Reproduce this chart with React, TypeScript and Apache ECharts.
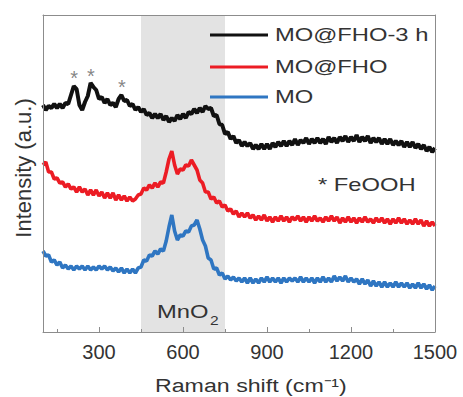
import React, { useEffect, useRef } from "react";
import * as echarts from "echarts";

// Raman shift sampling grid (cm^-1), every 10 cm^-1 from 100 to 1500
const shifts: number[] = Array.from({ length: 141 }, (_, i) => 100 + i * 10);

// Intensity (a.u.), offset-stacked as in the figure
const mofho3h: number[] = [
  227, 222, 226, 224, 228, 224, 228, 224, 229, 228,
  237, 246, 243, 227, 222, 230, 236, 249, 245, 242,
  233, 235, 229, 233, 227, 229, 225, 233, 237, 231,
  232, 226, 228, 222, 225, 220, 223, 217, 219, 214,
  218, 214, 218, 212, 216, 210, 214, 211, 217, 213,
  218, 214, 220, 218, 223, 219, 224, 220, 226, 223,
  224, 216, 217, 208, 207, 198, 200, 193, 196, 189,
  192, 186, 190, 186, 189, 183, 187, 183, 188, 183,
  188, 183, 189, 185, 190, 186, 191, 186, 191, 187,
  193, 187, 192, 189, 194, 188, 193, 189, 194, 189,
  193, 188, 195, 190, 194, 189, 195, 191, 196, 190,
  195, 191, 197, 190, 195, 191, 196, 189, 194, 190,
  194, 188, 193, 188, 193, 187, 191, 187, 191, 185,
  190, 185, 190, 184, 188, 183, 187, 181, 185, 180,
  184,
];

const mofho: number[] = [
  167, 170, 160, 160, 153, 154, 149, 150, 145, 148,
  143, 145, 140, 145, 140, 143, 137, 142, 137, 142,
  136, 140, 134, 139, 134, 139, 132, 137, 132, 136,
  131, 135, 131, 133, 137, 138, 144, 142, 147, 144,
  149, 145, 150, 149, 160, 173, 181, 167, 158, 163,
  162, 167, 166, 172, 167, 162, 152, 149, 140, 140,
  133, 135, 129, 131, 125, 127, 121, 123, 118, 121,
  115, 119, 115, 119, 114, 117, 112, 116, 112, 117,
  111, 115, 110, 115, 111, 116, 111, 115, 110, 115,
  112, 116, 111, 115, 110, 115, 111, 116, 111, 114,
  110, 115, 111, 116, 111, 115, 109, 114, 110, 115,
  110, 114, 109, 114, 110, 115, 110, 113, 109, 114,
  110, 114, 109, 113, 108, 113, 109, 114, 109, 113,
  108, 112, 108, 113, 108, 112, 106, 111, 106, 110,
  106,
];

const mo: number[] = [
  81, 76, 77, 70, 72, 67, 70, 64, 67, 63,
  66, 62, 66, 63, 66, 62, 66, 62, 65, 62,
  66, 63, 66, 62, 65, 61, 64, 60, 64, 59,
  63, 59, 63, 59, 64, 65, 72, 71, 77, 76,
  81, 78, 83, 81, 91, 105, 117, 101, 92, 97,
  96, 101, 100, 106, 107, 112, 103, 92, 86, 74,
  72, 63, 64, 57, 59, 53, 56, 52, 55, 51,
  54, 50, 54, 49, 54, 49, 53, 49, 54, 50,
  55, 50, 54, 50, 54, 49, 54, 50, 54, 51,
  54, 50, 55, 50, 54, 50, 54, 49, 54, 50,
  55, 50, 54, 50, 56, 51, 55, 51, 56, 50,
  54, 50, 53, 48, 53, 48, 52, 46, 51, 46,
  50, 45, 50, 45, 49, 45, 50, 45, 49, 45,
  49, 44, 48, 44, 49, 44, 48, 43, 47, 42,
  46,
];

const seriesNames = ["MO@FHO-3 h", "MO@FHO", "MO"];
const seriesColors = ["#111111", "#ec1c24", "#2f76c2"];
const seriesWidths = [4, 3.6, 3.6];

// FeOOH peak markers (*) above the MO@FHO-3 h curve
const feoohShifts = [211, 271, 382];
const feoohMarkY = [259, 261, 250];

// MnO2 region
const mno2Band = [450, 750];

const majorTicks = [300, 600, 900, 1200, 1500];
const minorTicks = [150, 450, 750, 1050, 1350];

const FONT = '"Liberation Sans", Arial, Helvetica, sans-serif';
const TEXT = "#333333";
const FRAME = "#8c8c8c";

export default function App() {
  const ref = useRef<HTMLDivElement>(null);

  useEffect(() => {
    if (!ref.current) return;
    const chart = echarts.init(ref.current, null, { renderer: "svg" });
    const toPairs = (ys: number[]) => shifts.map((x, i) => [x, ys[i]]);
    const curves = [mofho3h, mofho, mo];

    const legendRowsY = [35, 67, 97];

    const option: any = {
      animation: false,
      backgroundColor: "#ffffff",
      grid: { left: 43, right: 28, top: 15, bottom: 65, containLabel: false },
      xAxis: [
        {
          type: "value",
          min: 100,
          max: 1500,
          position: "bottom",
          z: 5,
          axisLine: { show: true, lineStyle: { color: FRAME, width: 1 } },
          axisTick: {
            show: true,
            inside: true,
            length: 5,
            customValues: majorTicks,
            lineStyle: { color: FRAME },
          },
          axisLabel: {
            show: true,
            customValues: majorTicks,
            formatter: (v: number) => String(v),
            color: TEXT,
            fontSize: 20,
            fontFamily: FONT,
            margin: 10,
          },
          splitLine: { show: false },
        },
        {
          type: "value",
          min: 100,
          max: 1500,
          position: "bottom",
          z: 5,
          axisLine: { show: false },
          axisTick: {
            show: true,
            inside: true,
            length: 3,
            customValues: minorTicks,
            lineStyle: { color: FRAME },
          },
          axisLabel: { show: false },
          splitLine: { show: false },
        },
        {
          type: "value",
          min: 100,
          max: 1500,
          position: "top",
          z: 5,
          axisLine: { show: true, lineStyle: { color: FRAME, width: 1 } },
          axisTick: { show: false },
          axisLabel: { show: false },
          splitLine: { show: false },
        },
      ],
      yAxis: [
        {
          type: "value",
          min: 0,
          max: 317,
          position: "left",
          z: 5,
          axisLine: { show: true, lineStyle: { color: FRAME, width: 1 } },
          axisTick: { show: false },
          axisLabel: { show: false },
          splitLine: { show: false },
        },
        {
          type: "value",
          min: 0,
          max: 317,
          position: "right",
          z: 5,
          axisLine: { show: true, lineStyle: { color: FRAME, width: 1 } },
          axisTick: { show: false },
          axisLabel: { show: false },
          splitLine: { show: false },
        },
      ],
      series: [
        {
          type: "line",
          name: "MnO2 region",
          data: [],
          z: 1,
          silent: true,
          markArea: {
            silent: true,
            itemStyle: { color: "#e3e3e3" },
            data: [[{ xAxis: mno2Band[0] }, { xAxis: mno2Band[1] }]],
          },
        },
        ...curves.map((ys, k) => ({
          type: "line",
          name: seriesNames[k],
          data: toPairs(ys),
          showSymbol: false,
          symbol: "none",
          silent: true,
          z: 2,
          lineStyle: { color: seriesColors[k], width: seriesWidths[k], join: "bevel" },
          itemStyle: { color: seriesColors[k] },
        })),
        {
          type: "scatter",
          name: "FeOOH",
          data: feoohShifts.map((x, i) => [x, feoohMarkY[i]]),
          symbolSize: 0.1,
          silent: true,
          z: 4,
          itemStyle: { color: "rgba(0,0,0,0)" },
          label: {
            show: true,
            position: "inside",
            formatter: "*",
            fontSize: 20,
            fontFamily: FONT,
            color: "#666666",
            offset: [0, 5],
          },
        },
      ],
      graphic: [
        ...legendRowsY.map((y, k) => ({
          type: "line",
          z: 10,
          shape: { x1: 210, y1: y, x2: 268, y2: y },
          style: { stroke: seriesColors[k], lineWidth: 3 },
        })),
        ...legendRowsY.map((y, k) => ({
          type: "text",
          z: 10,
          x: 275,
          y: y,
          scaleX: 1.25,
          style: {
            text: seriesNames[k],
            fill: TEXT,
            font: `19px ${FONT}`,
            align: "left",
            verticalAlign: "middle",
            textAlign: "left",
            textVerticalAlign: "middle",
          },
        })),
        {
          type: "text",
          z: 10,
          x: 318,
          y: 185,
          scaleX: 1.25,
          style: {
            text: "* FeOOH",
            fill: TEXT,
            font: `19px ${FONT}`,
            align: "left",
            verticalAlign: "middle",
            textAlign: "left",
            textVerticalAlign: "middle",
          },
        },
        {
          type: "text",
          z: 10,
          x: 157,
          y: 312,
          scaleX: 1.25,
          style: {
            text: "MnO",
            fill: TEXT,
            font: `19px ${FONT}`,
            align: "left",
            verticalAlign: "middle",
            textAlign: "left",
            textVerticalAlign: "middle",
          },
        },
        {
          type: "text",
          z: 10,
          x: 210,
          y: 320,
          scaleX: 1.2,
          style: {
            text: "2",
            fill: TEXT,
            font: `13px ${FONT}`,
            align: "left",
            verticalAlign: "middle",
            textAlign: "left",
            textVerticalAlign: "middle",
          },
        },
        {
          type: "text",
          z: 10,
          x: 155,
          y: 385,
          scaleX: 1.22,
          style: {
            text: "Raman shift (cm\u207B\u00B9)",
            fill: TEXT,
            font: `19px ${FONT}`,
            align: "left",
            verticalAlign: "middle",
            textAlign: "left",
            textVerticalAlign: "middle",
          },
        },
        {
          type: "text",
          z: 10,
          x: 23,
          y: 168,
          rotation: Math.PI / 2,
          style: {
            text: "Intensity (a.u.)",
            fill: TEXT,
            font: `22px ${FONT}`,
            align: "center",
            verticalAlign: "middle",
            textAlign: "center",
            textVerticalAlign: "middle",
          },
        },
      ],
    };

    chart.setOption(option);
    return () => chart.dispose();
  }, []);

  return (
    <div
      ref={ref}
      style={{ position: "fixed", left: 0, top: 0, width: 463, height: 397, background: "#fff" }}
    />
  );
}
